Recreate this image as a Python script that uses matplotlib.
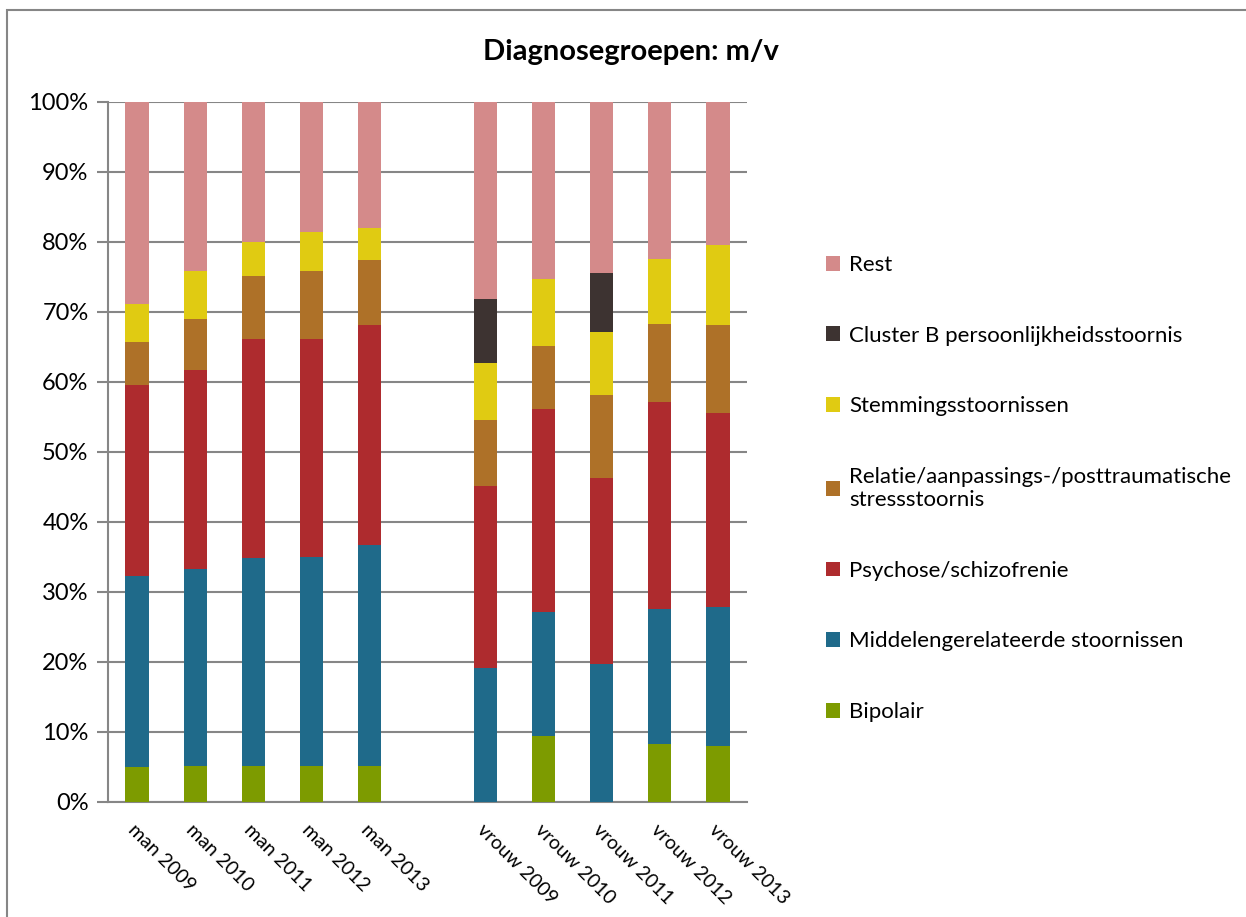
import numpy as np
import matplotlib
matplotlib.use('Agg')
import matplotlib.pyplot as plt
from matplotlib.patches import Rectangle, Patch
from matplotlib.ticker import PercentFormatter

plt.rcParams['font.family'] = ['Lato', 'DejaVu Sans']

# categories (empty slot between man and vrouw)
categories = ['man 2009', 'man 2010', 'man 2011', 'man 2012', 'man 2013', '',
              'vrouw 2009', 'vrouw 2010', 'vrouw 2011', 'vrouw 2012', 'vrouw 2013']

# percentages per series, bottom to top (empty slot -> 0)
bipolair  = [5.0, 5.1, 5.1, 5.2, 5.1, 0, 0.0, 9.4, 0.0, 8.3, 8.0]
middelen  = [27.3, 28.2, 29.8, 29.8, 31.6, 0, 19.2, 17.8, 19.7, 19.3, 19.8]
psychose  = [27.3, 28.4, 31.2, 31.1, 31.4, 0, 25.9, 28.9, 26.6, 29.5, 27.8]
relatie   = [6.1, 7.3, 9.1, 9.7, 9.3, 0, 9.5, 9.0, 11.8, 11.2, 12.6]
stemming  = [5.4, 6.8, 4.8, 5.6, 4.6, 0, 8.1, 9.6, 9.1, 9.3, 11.4]
cluster_b = [0.0, 0.0, 0.0, 0.0, 0.0, 0, 9.2, 0.0, 8.4, 0.0, 0.0]
rest      = [28.9, 24.2, 20.0, 18.6, 18.0, 0, 28.1, 25.3, 24.4, 22.4, 20.4]

series_names = ['Bipolair', 'Middelengerelateerde stoornissen', 'Psychose/schizofrenie',
                'Relatie/aanpassings-/posttraumatische\nstressstoornis', 'Stemmingsstoornissen',
                'Cluster B persoonlijkheidsstoornis', 'Rest']
series_vals = [bipolair, middelen, psychose, relatie, stemming, cluster_b, rest]
colors = ['#7D9B00', '#1F6A8A', '#AE2B2E', '#AE7128', '#E0CB12', '#3D3331', '#D48A8A']

fig = plt.figure(figsize=(12.46, 9.17), dpi=100)
ax = fig.add_axes([108 / 1246, 1 - 802 / 917, (747 - 108) / 1246, 700 / 917])

x = np.arange(len(categories))
bottom = np.zeros(len(categories))
for name, vals, c in zip(series_names, series_vals, colors):
    vals = np.array(vals, dtype=float)
    ax.bar(x, vals, 0.4, bottom=bottom, color=c, label=name, zorder=3)
    bottom += vals

grid_c = '#868686'
ax.set_ylim(0, 100)
ax.set_xlim(-0.5, len(categories) - 0.5)
ax.set_yticks(np.arange(0, 101, 10))
ax.yaxis.set_major_formatter(PercentFormatter(decimals=0))
ax.yaxis.grid(True, color=grid_c, linewidth=1.5, zorder=0)
ax.set_axisbelow(True)
for s in ['top', 'right']:
    ax.spines[s].set_visible(False)
for s in ['left', 'bottom']:
    ax.spines[s].set_color(grid_c)
    ax.spines[s].set_linewidth(1.5)
ax.tick_params(axis='y', length=8, width=1.5, color=grid_c, labelsize=17, pad=6)
ax.tick_params(axis='x', length=0, pad=14)
ax.set_xticks(x)
ax.set_xticklabels(categories, rotation=-45, ha='left', rotation_mode='anchor', fontsize=14)

fig.text(631 / 1246, 1 - 52 / 917, 'Diagnosegroepen: m/v', ha='center', va='center',
         fontsize=21, fontweight='bold')

handles = [Patch(facecolor=c) for c in colors][::-1]
leg = fig.legend(handles, series_names[::-1], loc='upper left',
                 bbox_to_anchor=(817 / 1246, 1 - 246 / 917), frameon=False,
                 borderaxespad=0, fontsize=16, labelspacing=2.28,
                 handlelength=0.65, handleheight=0.65, handletextpad=0.4)

# outer border of the chart area
fig.patches.append(Rectangle((7 / 1246, -0.1), 1.1, 1 - 10 / 917 + 0.1,
                             transform=fig.transFigure, fill=False,
                             edgecolor=grid_c, linewidth=1.5))

fig.savefig('out.png', dpi=100, facecolor='white')
